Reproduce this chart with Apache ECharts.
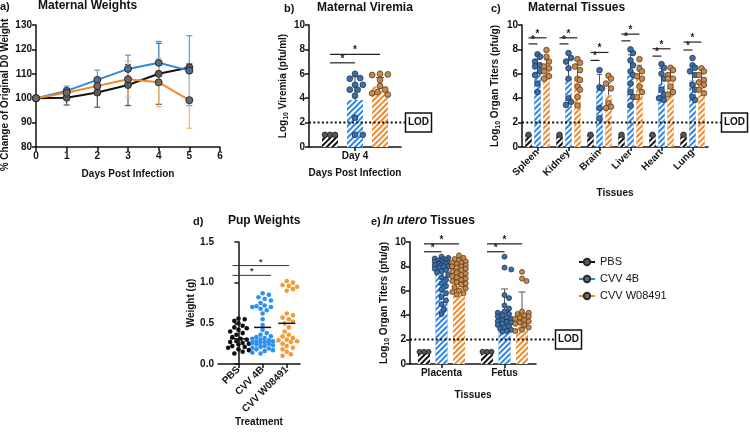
<!DOCTYPE html>
<html><head><meta charset="utf-8">
<script src="https://cdn.jsdelivr.net/npm/echarts@6/dist/echarts.min.js"></script>
<style>html,body{margin:0;padding:0;background:#fff}#c{width:750px;height:432px}</style>
</head><body><div id="c"></div>
<script>
// ---------- DATA ----------
// a) Maternal weights
const daysA = [0, 1, 2, 3, 4, 5];
const wtPBS = [100, 100.2, 102.3, 105.4, 110, 112.6];
const wtPBSsd = [0, 3, 6, 8.4, 12.5, 1.5];
const wt4B = [100, 103, 107.5, 112, 114.5, 111.3];
const wt4Bsd = [0, 2, 4, 5.6, 8.8, 14.3];
const wtW = [100, 102.2, 105, 107.8, 106.5, 99.2];
const wtWsd = [0, 2, 3, 7.4, 10, 11.5];
const seriesNames = ['PBS', 'CVV 4B', 'CVV W08491'];

// b) Maternal viremia
const virCats = ['Day 4'];
const virMean = [1.0, 3.85, 4.95];
const virSD = [0, 1.9, 0.75];
const virPBS = [1, 1, 1];
const vir4B = [6.0, 5.65, 5.6, 5.1, 5.1, 4.7, 4.7, 4.2, 2.4, 1.0, 1.0];
const virW = [6.0, 5.95, 5.9, 5.5, 5.0, 4.7, 4.5, 4.4, 4.3];
const virSig = [[0, 0, 1, 6.9], [0, 0, 2, 7.6]];

// c) Maternal tissues
const tissues = ['Spleen', 'Kidney', 'Brain', 'Liver', 'Heart', 'Lung'];
const tisPBS = [1, 1, 1, 1, 1, 1];
const tis4B = [6.2, 5.6, 4.75, 5.95, 5.25, 5.45];
const tisW = [6.45, 5.5, 4.25, 5.7, 5.7, 5.3];
const tis4Bsd = [1.0, 1.6, 1.2, 1.6, 1.2, 1.2];
const tisWsd = [0.7, 1.3, 1.0, 1.0, 0.8, 0.7];
const tisDots4B = [
  [7.6, 7.4, 7.0, 6.7, 6.6, 6.2, 5.9, 5.2, 4.5],
  [7.7, 7.3, 7.0, 6.45, 5.6, 4.0, 3.7, 3.45],
  [6.3, 4.9, 4.8, 3.2, 2.35],
  [8.0, 7.7, 7.1, 6.7, 6.2, 5.9, 5.2, 4.5, 4.1, 3.4],
  [6.8, 6.5, 6.0, 5.6, 4.7, 4.3, 4.0, 3.85],
  [7.3, 6.7, 6.5, 6.2, 5.9, 5.1, 4.7, 4.1, 3.85]
];
const tisDotsW = [
  [7.95, 7.4, 7.0, 6.6, 6.45, 6.2, 5.8, 5.6],
  [7.2, 6.9, 6.6, 6.3, 5.6, 5.5, 4.95, 4.7, 4.1, 3.4],
  [5.85, 5.6, 5.2, 4.8, 3.6, 3.3, 3.2],
  [7.2, 6.4, 6.2, 5.8, 5.6, 4.95, 4.5, 4.1],
  [6.5, 6.3, 5.9, 5.6, 5.6, 4.95, 4.5, 4.3],
  [6.45, 6.2, 5.9, 5.5, 5.3, 5.1, 4.7, 4.4]
];
const tisSig = [
  [0, 0, 1, 8.45], [0, 0, 2, 8.95], [1, 0, 1, 8.45], [1, 0, 2, 8.95],
  [2, 0, 1, 7.1], [2, 0, 2, 7.75], [3, 0, 1, 8.7], [3, 0, 2, 9.25],
  [4, 0, 1, 7.45], [4, 0, 2, 8.05], [5, 0, 1, 7.95], [5, 0, 2, 8.6]
];

// d) Pup weights
const pupCats = ['PBS', 'CVV 4B', 'CVV W08491'];
const pupMean = [0.31, 0.45, 0.50];
const pupPBS = [0.56, 0.55, 0.53, 0.50, 0.47, 0.45, 0.44, 0.42, 0.40, 0.38, 0.36, 0.33, 0.31, 0.30, 0.28, 0.27, 0.26, 0.25, 0.24, 0.22, 0.21, 0.20, 0.18, 0.17, 0.15, 0.13];
const pup4B = [0.87, 0.85, 0.82, 0.80, 0.78, 0.75, 0.72, 0.71, 0.70, 0.70, 0.68, 0.66, 0.62, 0.55, 0.48, 0.42, 0.38, 0.36, 0.34, 0.33, 0.32, 0.31, 0.30, 0.29, 0.28, 0.28, 0.27, 0.26, 0.26, 0.25, 0.24, 0.23, 0.22, 0.21, 0.20, 0.19, 0.18, 0.17, 0.16, 0.14, 0.13];
const pupW = [1.02, 1.0, 0.97, 0.96, 0.95, 0.92, 0.90, 0.62, 0.60, 0.57, 0.55, 0.52, 0.50, 0.45, 0.40, 0.36, 0.34, 0.32, 0.30, 0.29, 0.28, 0.27, 0.25, 0.22, 0.20, 0.18, 0.15, 0.12, 0.10];
const pupSig = [[-0.25, 1.35, 1.09], [-0.25, 2.1, 1.21]];

// e) In utero tissues
const uteroCats = ['Placenta', 'Fetus'];
const uteroPBS = [1, 1];
const utero4B = [7.4, 4.35];
const uteroW = [7.3, 4.2];
const utero4Bsd = [1.0, 1.8];
const uteroWsd = [0.9, 1.7];
const placDots4B = [8.8, 8.7, 8.65, 8.6, 8.5, 8.5, 8.4, 8.4, 8.3, 8.3, 8.2, 8.2, 8.1, 8.1, 8.0, 8.0, 7.9, 7.8, 7.7, 7.6, 7.5, 7.3, 7.1, 6.9, 6.6, 6.4, 6.1, 5.8, 5.5, 5.2, 4.9, 4.5, 4.1];
const placDotsW = [8.9, 8.7, 8.6, 8.5, 8.4, 8.3, 8.3, 8.2, 8.1, 8.0, 8.0, 7.9, 7.8, 7.7, 7.6, 7.5, 7.4, 7.3, 7.2, 7.1, 7.0, 6.9, 6.8, 6.7, 6.6, 6.5, 6.3, 6.2, 6.0, 5.9, 5.8, 5.7];
const fetDots4B = [8.8, 7.9, 7.75, 5.65, 5.4, 4.8, 4.55, 4.3, 4.2, 4.1, 4.0, 3.9, 3.8, 3.7, 3.6, 3.5, 3.45, 3.4, 3.3, 3.2, 3.1, 3.0, 2.9, 2.8, 2.7, 2.65];
const fetDotsW = [7.55, 7.0, 6.8, 4.3, 4.2, 4.1, 4.0, 3.9, 3.8, 3.7, 3.6, 3.5, 3.4, 3.3, 3.2, 3.0, 2.8, 2.7];
const uteroSig = [[0, 0, 1, 9.2], [0, 0, 2, 9.85], [1, 0, 1, 9.2], [1, 0, 2, 9.85]];
const LOD = 2;

// ---------- STYLE ----------
const FONT = 'Liberation Sans, Arial, Helvetica, sans-serif';
const BLUE = '#2f86e0', ORANGE = '#f08a2c', BLACK = '#111';
const DOT_BLUE = '#3d6fa6', DOT_BLUE_E = '#1d3554';
const DOT_OR = '#c48a4e', DOT_OR_E = '#5a3a1a';
const DOT_BK = '#555', DOT_BK_E = '#222';

const axLine = {show: true, lineStyle: {color: BLACK, width: 1.5}};
const axTick = {show: true, length: 4, lineStyle: {color: BLACK, width: 1.5}};
const lbl = {fontFamily: FONT, fontWeight: 'bold', fontSize: 10, color: BLACK, margin: 4};
const nameStyle = {fontFamily: FONT, fontWeight: 'bold', fontSize: 10, color: BLACK};
const logRich = {
  a: {fontFamily: FONT, fontWeight: 'bold', fontSize: 10, color: BLACK, lineHeight: 14},
  s: {fontFamily: FONT, fontWeight: 'bold', fontSize: 7, color: BLACK, lineHeight: 14, verticalAlign: 'bottom'}
};

function hatch(color) {
  return {color: color, decal: {symbol: 'rect', symbolSize: 1, dashArrayX: [1, 0], dashArrayY: [2, 2], rotation: -Math.PI / 4, color: '#ffffff'}};
}

// beeswarm layout (deterministic)
function swarm(vals, ppu, r, maxHalf) {
  const placed = [];
  const dx = new Array(vals.length).fill(0);
  const order = vals.map((v, i) => i).sort((a, b) => vals[b] - vals[a]);
  const step = r * 0.9;
  for (const i of order) {
    const y = vals[i] * ppu;
    let best = 0, bestD = -1;
    for (let k = 0; k < 80; k++) {
      const c = k === 0 ? 0 : (k % 2 ? 1 : -1) * Math.ceil(k / 2) * step;
      if (Math.abs(c) > maxHalf) continue;
      let minD = Infinity;
      for (const p of placed) { const d = Math.hypot(p.x - c, p.y - y); if (d < minD) minD = d; }
      if (minD >= 2 * r) { best = c; bestD = Infinity; break; }
      if (minD > bestD) { bestD = minD; best = c; }
    }
    placed.push({x: best, y: y});
    dx[i] = best;
  }
  return dx;
}

function dots(gi, x, vals, slotOff, ppu, r, maxHalf, fill, stroke, z) {
  const dxs = swarm(vals, ppu, r, maxHalf);
  return {
    type: 'custom', xAxisIndex: gi, yAxisIndex: gi, z: z || 4, clip: false, silent: true,
    data: vals.map((v, i) => [x, v, dxs[i]]),
    renderItem: (params, api) => {
      const p = api.coord([api.value(0), api.value(1)]);
      return {type: 'circle', shape: {cx: p[0] + slotOff + api.value(2), cy: p[1], r: r},
        style: {fill: fill, stroke: stroke, lineWidth: stroke ? 0.8 : 0}};
    }
  };
}

function errUp(gi, means, sds, slotOff, capHalf) {
  return {
    type: 'custom', xAxisIndex: gi, yAxisIndex: gi, z: 3, silent: true, clip: false,
    data: means.map((m, i) => [i, m, sds[i]]),
    renderItem: (params, api) => {
      if (api.value(2) <= 0) return;
      const p0 = api.coord([api.value(0), api.value(1)]);
      const p1 = api.coord([api.value(0), api.value(1) + api.value(2)]);
      const x = p0[0] + slotOff;
      const st = {stroke: '#555', lineWidth: 1};
      return {type: 'group', children: [
        {type: 'line', shape: {x1: x, y1: p0[1], x2: x, y2: p1[1]}, style: st},
        {type: 'line', shape: {x1: x - capHalf, y1: p1[1], x2: x + capHalf, y2: p1[1]}, style: st}
      ]};
    }
  };
}

function errBoth(gi, xs, means, sds, color) {
  return {
    type: 'custom', xAxisIndex: gi, yAxisIndex: gi, z: 2, silent: true, clip: false,
    data: xs.map((x, i) => [x, means[i], sds[i]]),
    renderItem: (params, api) => {
      if (api.value(2) <= 0) return;
      const pt = api.coord([api.value(0), api.value(1) + api.value(2)]);
      const pb = api.coord([api.value(0), api.value(1) - api.value(2)]);
      const st = {stroke: color, lineWidth: 1.2};
      return {type: 'group', children: [
        {type: 'line', shape: {x1: pt[0], y1: pt[1], x2: pb[0], y2: pb[1]}, style: st},
        {type: 'line', shape: {x1: pt[0] - 3, y1: pt[1], x2: pt[0] + 3, y2: pt[1]}, style: st},
        {type: 'line', shape: {x1: pb[0] - 3, y1: pb[1], x2: pb[0] + 3, y2: pb[1]}, style: st}
      ]};
    }
  };
}

function sigCat(gi, items, pitch) {
  return {
    type: 'custom', xAxisIndex: gi, yAxisIndex: gi, z: 6, silent: true, clip: false,
    data: items,
    renderItem: (params, api) => {
      const p = api.coord([api.value(0), api.value(3)]);
      const x1 = p[0] + (api.value(1) - 1) * pitch, x2 = p[0] + (api.value(2) - 1) * pitch;
      return {type: 'group', children: [
        {type: 'line', shape: {x1: x1, y1: p[1], x2: x2, y2: p[1]}, style: {stroke: '#222', lineWidth: 1.2}},
        {type: 'text', style: {text: '*', x: (x1 + x2) / 2, y: p[1] + 1, align: 'center', verticalAlign: 'bottom', font: 'bold 10px ' + FONT, fill: '#222'}}
      ]};
    }
  };
}

function sigVal(gi, items) {
  return {
    type: 'custom', xAxisIndex: gi, yAxisIndex: gi, z: 6, silent: true, clip: false,
    data: items,
    renderItem: (params, api) => {
      const a = api.coord([api.value(0), api.value(2)]);
      const b = api.coord([api.value(1), api.value(2)]);
      return {type: 'group', children: [
        {type: 'line', shape: {x1: a[0], y1: a[1], x2: b[0], y2: b[1]}, style: {stroke: '#333', lineWidth: 1}},
        {type: 'text', style: {text: '*', x: (a[0] + b[0]) / 2, y: a[1] + 1, align: 'center', verticalAlign: 'bottom', font: 'bold 9px ' + FONT, fill: '#333'}}
      ]};
    }
  };
}

function lodSeries(gi, ext) {
  return {
    type: 'custom', xAxisIndex: gi, yAxisIndex: gi, z: 3, silent: true, clip: false,
    data: [[0, LOD]],
    renderItem: (params, api) => {
      const cs = params.coordSys;
      const y = api.coord([api.value(0), api.value(1)])[1];
      const xe = cs.x + cs.width + ext;
      return {type: 'group', children: [
        {type: 'line', shape: {x1: cs.x, y1: y, x2: xe, y2: y}, style: {stroke: BLACK, lineWidth: 2, lineDash: [2, 2.3]}},
        {type: 'rect', shape: {x: xe + 0.5, y: y - 9.5, width: 26, height: 19}, style: {fill: '#fff', stroke: BLACK, lineWidth: 1.5}},
        {type: 'text', style: {text: 'LOD', x: xe + 13.5, y: y, align: 'center', verticalAlign: 'middle', font: 'bold 10px ' + FONT, fill: BLACK}}
      ]};
    }
  };
}

function meanLines(gi, xs, means, half) {
  return {
    type: 'custom', xAxisIndex: gi, yAxisIndex: gi, z: 6, silent: true, clip: false,
    data: xs.map((x, i) => [x, means[i]]),
    renderItem: (params, api) => {
      const p = api.coord([api.value(0), api.value(1)]);
      return {type: 'line', shape: {x1: p[0] - half, y1: p[1], x2: p[0] + half, y2: p[1]}, style: {stroke: BLACK, lineWidth: 1.5}};
    }
  };
}

// ---------- LAYOUT ----------
const G = {
  a: {left: 36, top: 25, width: 184, height: 122},
  b: {left: 309, top: 25, width: 92, height: 122},
  c: {left: 522, top: 25, width: 186, height: 122},
  d: {left: 218, top: 242, width: 82, height: 122},
  e: {left: 410, top: 242, width: 126, height: 122}
};
const ppuB = G.b.height / 10, ppuC = G.c.height / 10, ppuD = G.d.height / 1.5, ppuE = G.e.height / 10;
const bwB = 16, gapB = 9, pB = bwB + gapB;
const bwC = 6.5, gapC = 2.5, pC = bwC + gapC;
const bwE = 12, gapE = 5.5, pE = bwE + gapE;

function grid(g) { return Object.assign({outerBoundsMode: 'none', containLabel: false}, g); }

const titleStyle = {fontFamily: FONT, fontWeight: 'bold', fontSize: 12, color: BLACK};
const tagStyle = {fontFamily: FONT, fontWeight: 'bold', fontSize: 11, color: BLACK};
function T(text, left, top, st) { return {text: text, left: left, top: top, padding: 0, textStyle: st || titleStyle}; }

const series = [];
// a) lines + error bars
const lineDefs = [
  [seriesNames[0], wtPBS, wtPBSsd, BLACK, '#5b5b5b', '#555'],
  [seriesNames[1], wt4B, wt4Bsd, BLUE, '#4f6e92', '#5c9ad6'],
  [seriesNames[2], wtW, wtWsd, ORANGE, '#6f6a66', '#f2b678']
];
lineDefs.forEach(d => series.push(errBoth(0, daysA, d[1], d[2], d[5])));
lineDefs.forEach(d => series.push({
  name: d[0], type: 'line', xAxisIndex: 0, yAxisIndex: 0, z: 4,
  data: daysA.map((x, i) => [x, d[1][i]]),
  symbol: 'circle', symbolSize: 7, showSymbol: true,
  lineStyle: {color: d[3], width: 2}, itemStyle: {color: d[4], borderColor: '#2a2a2a', borderWidth: 1}
}));

// b) bars
[[virMean[0], BLACK], [virMean[1], BLUE], [virMean[2], ORANGE]].forEach(d => {
  series.push({type: 'bar', xAxisIndex: 1, yAxisIndex: 1, data: [d[0]], barWidth: bwB, barGap: (gapB / bwB * 100) + '%', itemStyle: hatch(d[1]), z: 2, silent: true});
});
series.push(errUp(1, [virMean[1]], [virSD[1]], 0, 4));
series.push(errUp(1, [virMean[2]], [virSD[2]], pB, 4));
series.push(dots(1, 0, virPBS, -pB, ppuB, 2.8, 6, DOT_BK, DOT_BK_E));
series.push(dots(1, 0, vir4B, 0, ppuB, 2.9, 10, DOT_BLUE, DOT_BLUE_E));
series.push(dots(1, 0, virW, pB, ppuB, 2.9, 10, DOT_OR, DOT_OR_E));
series.push(sigCat(1, virSig, pB));
series.push(lodSeries(1, 4));

// c) bars
[[tisPBS, BLACK], [tis4B, BLUE], [tisW, ORANGE]].forEach(d => {
  series.push({type: 'bar', xAxisIndex: 2, yAxisIndex: 2, data: d[0], barWidth: bwC, barGap: (gapC / bwC * 100) + '%', itemStyle: hatch(d[1]), z: 2, silent: true});
});
series.push(errUp(2, tis4B, tis4Bsd, 0, 2.5));
series.push(errUp(2, tisW, tisWsd, pC, 2.5));
tissues.forEach((t, i) => {
  series.push(dots(2, i, [tisPBS[i]], -pC, ppuC, 2.8, 3, DOT_BK, DOT_BK_E));
  series.push(dots(2, i, tisDots4B[i], 0, ppuC, 2.8, 3.5, DOT_BLUE, DOT_BLUE_E));
  series.push(dots(2, i, tisDotsW[i], pC, ppuC, 2.8, 3.5, DOT_OR, DOT_OR_E));
});
series.push(sigCat(2, tisSig, pC));
series.push(lodSeries(2, 13));

// d) pup weights
series.push(dots(3, 0, pupPBS, 0, ppuD, 2.3, 11, BLACK, null));
series.push(dots(3, 1, pup4B, 0, ppuD, 2.3, 12, '#2e90f0', null));
series.push(dots(3, 2, pupW, 0, ppuD, 2.3, 12, '#f39a34', null));
series.push(meanLines(3, [0, 1, 2], pupMean, 8.5));
series.push(sigVal(3, pupSig));

// e) in utero
[[uteroPBS, BLACK], [utero4B, BLUE], [uteroW, ORANGE]].forEach(d => {
  series.push({type: 'bar', xAxisIndex: 4, yAxisIndex: 4, data: d[0], barWidth: bwE, barGap: (gapE / bwE * 100) + '%', itemStyle: hatch(d[1]), z: 2, silent: true});
});
series.push(errUp(4, utero4B, utero4Bsd, 0, 3.5));
series.push(errUp(4, uteroW, uteroWsd, pE, 3.5));
series.push(dots(4, 0, [1, 1, 1], -pE, ppuE, 2.5, 5, DOT_BK, DOT_BK_E));
series.push(dots(4, 1, [1, 1, 1], -pE, ppuE, 2.5, 5, DOT_BK, DOT_BK_E));
series.push(dots(4, 0, placDots4B, 0, ppuE, 2.5, 7, DOT_BLUE, DOT_BLUE_E));
series.push(dots(4, 0, placDotsW, pE, ppuE, 2.5, 7, DOT_OR, DOT_OR_E));
series.push(dots(4, 1, fetDots4B, 0, ppuE, 2.5, 7, DOT_BLUE, DOT_BLUE_E));
series.push(dots(4, 1, fetDotsW, pE, ppuE, 2.5, 7, DOT_OR, DOT_OR_E));
series.push(sigCat(4, uteroSig, pE));
series.push(lodSeries(4, 19));

const yLog = (gap, rest) => ({name: '{a|Log}{s|10}{a|' + rest + '}', nameLocation: 'middle', nameGap: gap, nameRotate: 90, nameTextStyle: {rich: logRich}});

const option = {
  animation: false,
  backgroundColor: '#fff',
  title: [
    T('a)', 0, 1, tagStyle), T('Maternal Weights', 38, 0),
    T('b)', 284, 3, tagStyle), T('Maternal Viremia', 317, 2),
    T('c)', 491, 3, tagStyle), T('Maternal Tissues', 528, 2),
    T('d)', 193, 216, tagStyle), T('Pup Weights', 228, 215),
    T('e)', 371, 216, tagStyle),
    {text: '{i|In utero} Tissues', left: 383, top: 215, padding: 0, textStyle: Object.assign({}, titleStyle, {rich: {i: {fontFamily: FONT, fontWeight: 'bold', fontStyle: 'italic', fontSize: 12, color: BLACK}}})}
  ],
  legend: {
    orient: 'vertical', left: 578, top: 256, padding: 0, itemWidth: 16, itemHeight: 8, itemGap: 5,
    data: seriesNames, selectedMode: false,
    textStyle: {fontFamily: FONT, fontSize: 11, color: BLACK, lineHeight: 12}
  },
  grid: [grid(G.a), grid(G.b), grid(G.c), grid(G.d), grid(G.e)],
  xAxis: [
    {gridIndex: 0, type: 'value', min: 0, max: 6, interval: 1, axisLine: axLine, axisTick: axTick, axisLabel: lbl, splitLine: {show: false},
      name: 'Days Post Infection', nameLocation: 'middle', nameGap: 22, nameTextStyle: nameStyle},
    {gridIndex: 1, type: 'category', data: virCats, axisLine: axLine, axisTick: Object.assign({alignWithLabel: true}, axTick), axisLabel: lbl,
      name: 'Days Post Infection', nameLocation: 'middle', nameGap: 21, nameTextStyle: nameStyle},
    {gridIndex: 2, type: 'category', data: tissues, axisLine: axLine, axisTick: Object.assign({alignWithLabel: true}, axTick), axisLabel: Object.assign({}, lbl, {rotate: 45, interval: 0}),
      name: 'Tissues', nameLocation: 'middle', nameGap: 41, nameTextStyle: nameStyle},
    {gridIndex: 3, type: 'value', min: -0.85, max: 2.55, axisLine: axLine, splitLine: {show: false},
      axisTick: Object.assign({customValues: [0, 1, 2]}, axTick),
      axisLabel: Object.assign({}, lbl, {rotate: 45, customValues: [0, 1, 2], formatter: v => pupCats[Math.round(v)]}),
      name: 'Treatment', nameLocation: 'middle', nameGap: 49, nameTextStyle: nameStyle},
    {gridIndex: 4, type: 'category', data: uteroCats, axisLine: axLine, axisTick: Object.assign({alignWithLabel: true}, axTick), axisLabel: lbl,
      name: 'Tissues', nameLocation: 'middle', nameGap: 26, nameTextStyle: nameStyle}
  ],
  yAxis: [
    {gridIndex: 0, type: 'value', min: 80, max: 130, interval: 10, axisLine: axLine, axisTick: axTick, axisLabel: lbl, splitLine: {show: false},
      name: '% Change of Original D0 Weight', nameLocation: 'middle', nameGap: 26, nameRotate: 90, nameTextStyle: Object.assign({}, nameStyle, {padding: [0, 18, 0, 0]})},
    Object.assign({gridIndex: 1, type: 'value', min: 0, max: 10, interval: 2, axisLine: axLine, axisTick: axTick, axisLabel: lbl, splitLine: {show: false}}, yLog(15, ' Viremia (pfu/ml)')),
    Object.assign({gridIndex: 2, type: 'value', min: 0, max: 10, interval: 2, axisLine: axLine, axisTick: axTick, axisLabel: lbl, splitLine: {show: false}}, yLog(20, ' Organ Titers (pfu/g)')),
    {gridIndex: 3, type: 'value', min: 0, max: 1.5, interval: 0.5, axisLine: axLine, axisTick: axTick, axisLabel: Object.assign({}, lbl, {formatter: v => v.toFixed(1)}), splitLine: {show: false},
      name: 'Weight (g)', nameLocation: 'middle', nameGap: 21, nameRotate: 90, nameTextStyle: nameStyle},
    Object.assign({gridIndex: 4, type: 'value', min: 0, max: 10, interval: 2, axisLine: axLine, axisTick: axTick, axisLabel: lbl, splitLine: {show: false}}, yLog(12, ' Organ Titers (pfu/g)'))
  ],
  series: series
};

const chart = echarts.init(document.getElementById('c'), null, {renderer: 'canvas'});
chart.setOption(option);
</script>
</body></html>
